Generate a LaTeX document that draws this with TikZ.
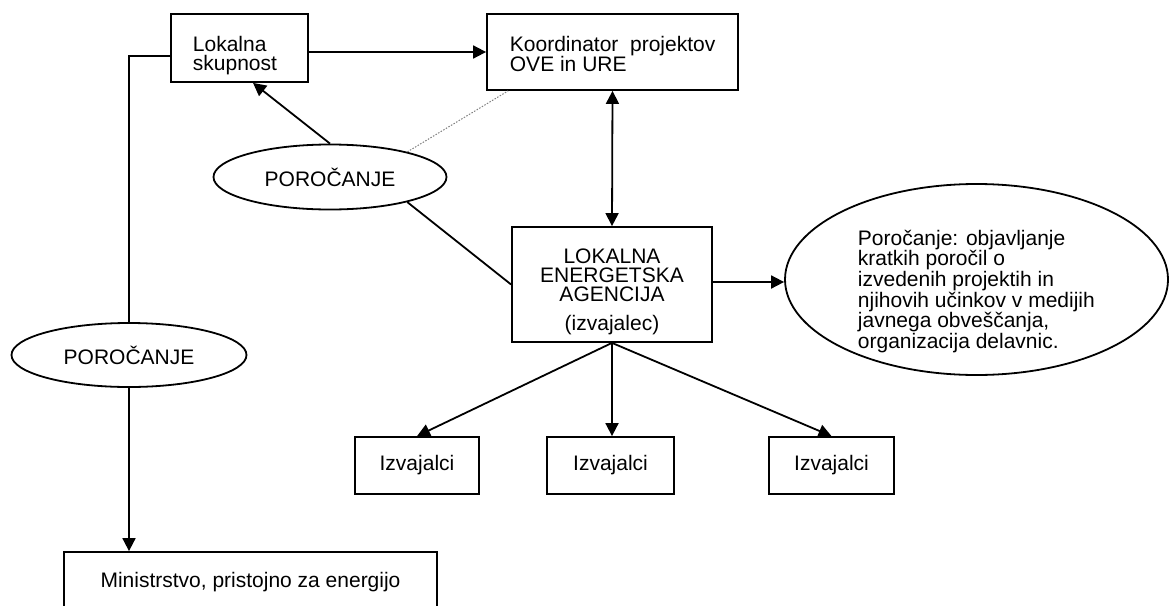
\documentclass[tikz,border=0pt]{standalone}
\usepackage{fontspec}
\setmainfont{Liberation Sans}
\usetikzlibrary{arrows.meta,shapes.geometric}
\begin{document}
\begin{tikzpicture}[x=1pt,y=-1pt,line width=1.8pt,
  every node/.style={font=\fontsize{21}{19}\selectfont},
  box/.style={draw,rectangle,inner sep=0pt},
  ell/.style={draw,ellipse,inner sep=0pt},
  txt/.style={inner sep=0pt},
  arr/.style={-{Triangle[length=13pt,width=13pt]}},
  darr/.style={{Triangle[length=13pt,width=13pt]}-{Triangle[length=13pt,width=13pt]}},
  dotline/.style={draw=gray,line width=1pt,dash pattern=on 1.5pt off 1.5pt}]
\useasboundingbox (0,0) rectangle (1169,605);
\clip (0,0) rectangle (1169,605);
% boxes
\node[box,minimum width=137pt,minimum height=68pt] (lok) at (239.5,48) {};
\node[txt,anchor=north west,align=left] (lokT) at (192,35) {Lokalna\\skupnost};
\node[box,minimum width=251pt,minimum height=76pt] (koo) at (612.5,52) {};
\node[txt,anchor=north west,align=left] (kooT) at (509,35) {Koordinator\ \ projektov\\OVE in URE};
\node[box,minimum width=200pt,minimum height=115pt] (lea) at (612,284.5) {};
\node[txt,anchor=north,align=center,font=\fontsize{21}{18.8}\selectfont] (leaT) at (612,248) {LOKALNA\\ENERGETSKA\\AGENCIJA\\[11pt](izvajalec)};
\node[ell,minimum width=383pt,minimum height=191pt] (rep) at (976.5,279.5) {};
\node[txt,anchor=north west,align=left,font=\fontsize{21}{18.8}\selectfont] (repT) at (857,229) {Poročanje: objavljanje\\kratkih poročil o\\izvedenih projektih in\\njihovih učinkov v medijih\\javnega obveščanja,\\organizacija delavnic.};
\node[ell,minimum width=233pt,minimum height=65pt] (p1) at (330,177) {POROČANJE};
\node[ell,minimum width=235pt,minimum height=64pt] (p2) at (129,355) {POROČANJE};
\node[box,minimum width=373pt,minimum height=61pt] (min) at (250.5,582.5) {Ministrstvo, pristojno za energijo};
\node[box,minimum width=124pt,minimum height=57pt] (iz1) at (417,465.5) {Izvajalci};
\node[box,minimum width=127pt,minimum height=57pt] (iz2) at (610.5,465.5) {Izvajalci};
\node[box,minimum width=125pt,minimum height=57pt] (iz3) at (831.5,465.5) {Izvajalci};
% connectors
\draw[arr] (koo.west -| lok.east) -- (koo.west);
\draw ([yshift=-8pt]lok.west) -| (p2.north);
\draw[arr] (p2.south) -- (p2.south |- min.north);
\draw[arr] (p1.north) -- ([xshift=13.5pt]lok.south);
\draw[dotline] (p1.18) -- ([xshift=22pt]koo.south west);
\draw (p1.-18) -- (lea.west);
\draw[darr] (koo.south) -- (lea.north);
\draw[arr] ([yshift=2.5pt]lea.east) -- ([yshift=2.5pt]lea.east -| rep.west);
\draw[arr] (lea.south) -- (iz1.north);
\draw[arr] (lea.south) -- (lea.south |- iz2.north);
\draw[arr] (lea.south) -- (iz3.north);
\end{tikzpicture}
\end{document}
